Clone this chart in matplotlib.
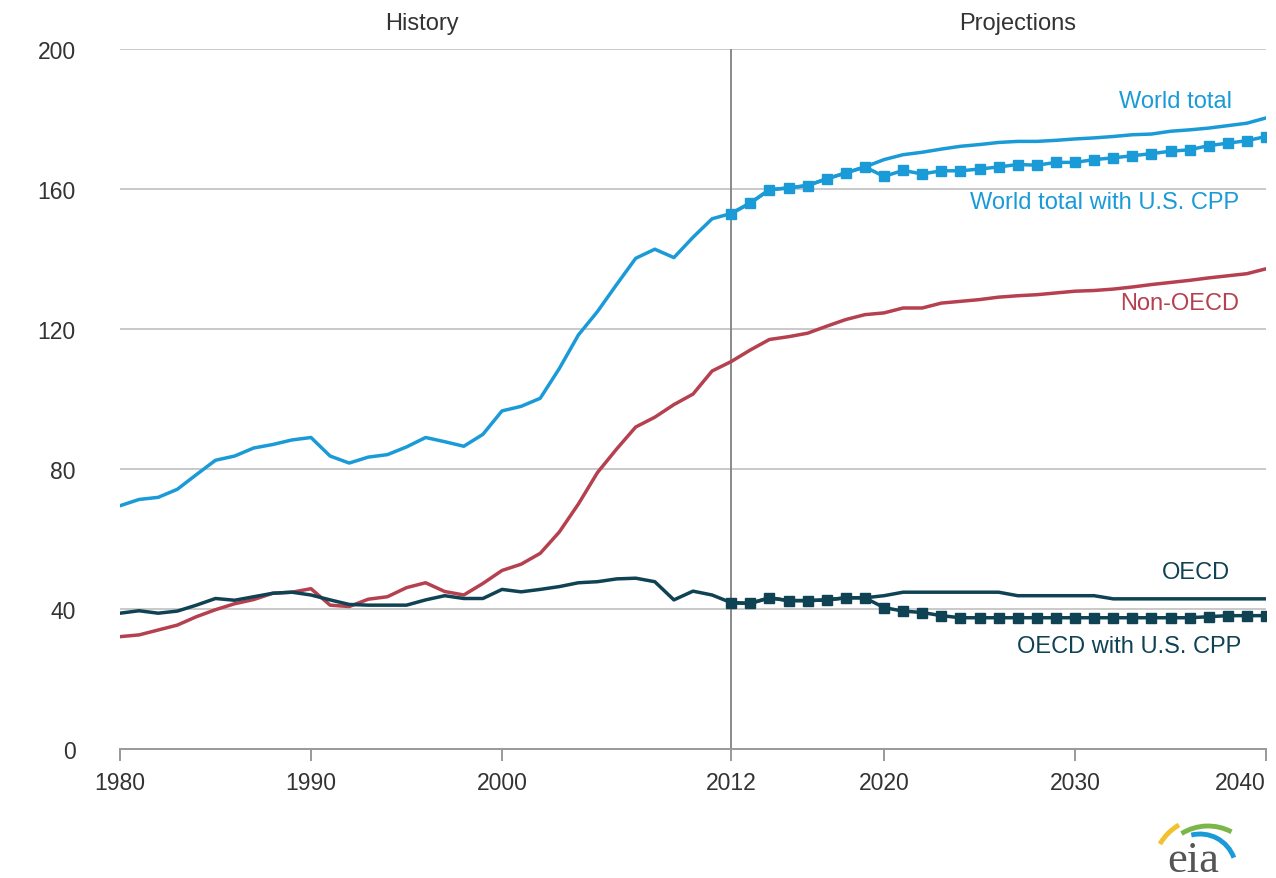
import numpy as np
import matplotlib
matplotlib.use("Agg")
import matplotlib.pyplot as plt
from matplotlib.patches import Arc

plt.rcParams['font.family'] = ['Liberation Sans', 'DejaVu Sans']

# ---------------- data ----------------
years = list(range(1980, 2041))
proj_years = list(range(2012, 2041))

world_total = [69.5, 71.3, 71.9, 74.2, 78.4, 82.5, 83.7, 86.0, 87.0, 88.3,
               89.0, 83.7, 81.7, 83.4, 84.1, 86.3, 89.0, 87.8, 86.5, 89.9,
               96.6, 97.9, 100.2, 108.7, 118.3, 125.0, 132.7, 140.2, 142.8, 140.4,
               146.2, 151.5, 153.0, 156.0, 159.8, 160.3, 161.0, 162.9, 164.6, 166.3,
               168.4, 169.8, 170.5, 171.4, 172.2, 172.7, 173.3, 173.6, 173.6, 173.9,
               174.3, 174.6, 175.0, 175.5, 175.7, 176.5, 176.9, 177.4, 178.1, 178.8,
               180.3]

world_cpp = [153.0, 156.0, 159.8, 160.3, 161.0, 162.9, 164.6, 166.3, 163.6, 165.3,
             164.3, 165.2, 165.2, 165.7, 166.3, 167.0, 166.8, 167.6, 167.6, 168.4,
             168.9, 169.5, 170.1, 170.8, 171.2, 172.4, 173.1, 173.8, 175.0]

non_oecd = [32.1, 32.6, 34.0, 35.4, 37.8, 39.8, 41.5, 42.7, 44.5, 44.8,
            45.8, 41.1, 40.7, 42.8, 43.5, 46.1, 47.5, 45.0, 44.0, 47.3,
            51.0, 52.8, 55.9, 62.0, 70.0, 79.0, 85.7, 92.0, 94.8, 98.4,
            101.4, 108.0, 110.7, 114.0, 117.0, 117.8, 118.8, 120.8, 122.7, 124.1,
            124.6, 126.0, 126.0, 127.4, 127.9, 128.4, 129.1, 129.5, 129.8, 130.3,
            130.8, 131.0, 131.4, 132.0, 132.7, 133.3, 133.9, 134.6, 135.2, 135.8,
            137.2]

oecd = [38.8, 39.5, 38.8, 39.4, 41.1, 43.0, 42.5, 43.5, 44.5, 44.8,
        44.0, 42.6, 41.3, 41.1, 41.1, 41.1, 42.6, 43.8, 43.0, 43.0,
        45.6, 44.9, 45.6, 46.4, 47.5, 47.8, 48.6, 48.8, 47.8, 42.6,
        45.1, 44.0, 41.8, 41.6, 43.2, 42.4, 42.4, 42.6, 43.2, 43.2,
        43.8, 44.8, 44.8, 44.8, 44.8, 44.8, 44.8, 43.8, 43.8, 43.8,
        43.8, 43.8, 42.9, 42.9, 42.9, 42.9, 42.9, 42.9, 42.9, 42.9,
        42.9]

oecd_cpp = [41.8, 41.6, 43.2, 42.4, 42.4, 42.6, 43.2, 43.2, 40.4, 39.4,
            39.0, 38.1, 37.5, 37.5, 37.5, 37.5, 37.5, 37.5, 37.5, 37.5,
            37.5, 37.5, 37.5, 37.5, 37.5, 37.8, 38.1, 38.1, 38.1]

y_ticks = [0, 40, 80, 120, 160, 200]
x_ticks = [1980, 1990, 2000, 2012, 2020, 2030, 2040]
x_tick_labels = ['1980', '1990', '2000', '2012', '2020', '2030', '2040']

# ---------------- style ----------------
BLUE = '#1a9bd7'
RED = '#b5404f'
TEAL = '#0f4253'
GRID = '#c9c9c9'
TXT = '#333333'

W, H = 1276, 879
fig = plt.figure(figsize=(W / 100, H / 100), dpi=100)
ax = fig.add_axes([120 / W, (H - 750) / H, 1146 / W, 700 / H])

ax.set_xlim(1980, 2040)
ax.set_ylim(0, 200)

for yv in y_ticks[1:]:
    ax.axhline(yv, color=GRID, lw=1.4, zorder=1)
ax.axvline(2012, color='#8a8a8a', lw=1.4, zorder=1, ymin=0, ymax=1)

for s in ['top', 'right', 'left']:
    ax.spines[s].set_visible(False)
ax.spines['bottom'].set_color('#999999')
ax.spines['bottom'].set_linewidth(1.4)

fs_tick = 16.5
ax.set_yticks(y_ticks)
ax.set_yticklabels([str(v) for v in y_ticks])
ax.tick_params(axis='y', length=0, pad=32, labelsize=fs_tick, labelcolor=TXT)
for lab in ax.get_yticklabels():
    lab.set_horizontalalignment('right')
    lab.set_verticalalignment('center_baseline')
ax.set_xticks(x_ticks)
ax.set_xticklabels(x_tick_labels)
ax.tick_params(axis='x', length=8.5, width=1.4, color='#999999', pad=7,
               labelsize=fs_tick, labelcolor=TXT)
xl = ax.get_xticklabels()
xl[-1].set_horizontalalignment('right')
xl[-1].set_x(2040.1)

lw = 2.5
ax.plot(years, world_total, color=BLUE, lw=lw, zorder=3)
ax.plot(years, non_oecd, color=RED, lw=lw, zorder=3)
ax.plot(years, oecd, color=TEAL, lw=lw, zorder=3)
ax.plot(proj_years, world_cpp, color=BLUE, lw=lw, marker='s', ms=6.5,
        zorder=4)
ax.plot(proj_years, oecd_cpp, color=TEAL, lw=lw, marker='s', ms=6.5,
        zorder=4)

fs = 17
ax.text(2038.2, 185.1, 'World total', color=BLUE, fontsize=fs, ha='right', va='center')
ax.text(2038.6, 156.3, 'World total with U.S. CPP', color=BLUE, fontsize=fs, ha='right', va='center')
ax.text(2038.6, 127.4, 'Non-OECD', color=RED, fontsize=fs, ha='right', va='center')
ax.text(2038.1, 50.6, 'OECD', color=TEAL, fontsize=fs, ha='right', va='center')
ax.text(2038.7, 29.4, 'OECD with U.S. CPP', color=TEAL, fontsize=fs, ha='right', va='center')

ax.text(1995.8, 207.4, 'History', color=TXT, fontsize=fs, ha='center', va='center', clip_on=False)
ax.text(2027.0, 207.4, 'Projections', color=TXT, fontsize=fs, ha='center', va='center', clip_on=False)

# ---------------- eia logo ----------------
lax = fig.add_axes([1130 / W, 0, 146 / W, 80 / H])
lax.set_xlim(1130, 1276)
lax.set_ylim(0, 80)
lax.axis('off')
lax.add_patch(Arc((1205, 8), 104, 104, theta1=120, theta2=150, color='#f2c12e', lw=3.5))
lax.add_patch(Arc((1208, 2), 100, 100, theta1=62, theta2=122, color='#7ab648', lw=3.5))
lax.add_patch(Arc((1200, 8), 72, 72, theta1=20, theta2=104, color='#1a9bd7', lw=3.5))
fig.text(1193 / W, (H - 872) / H, 'eia', fontsize=32, family=['Liberation Serif', 'DejaVu Serif'],
         color='#555555', ha='center', va='baseline')

fig.savefig('out.png', dpi=100, facecolor='white')
